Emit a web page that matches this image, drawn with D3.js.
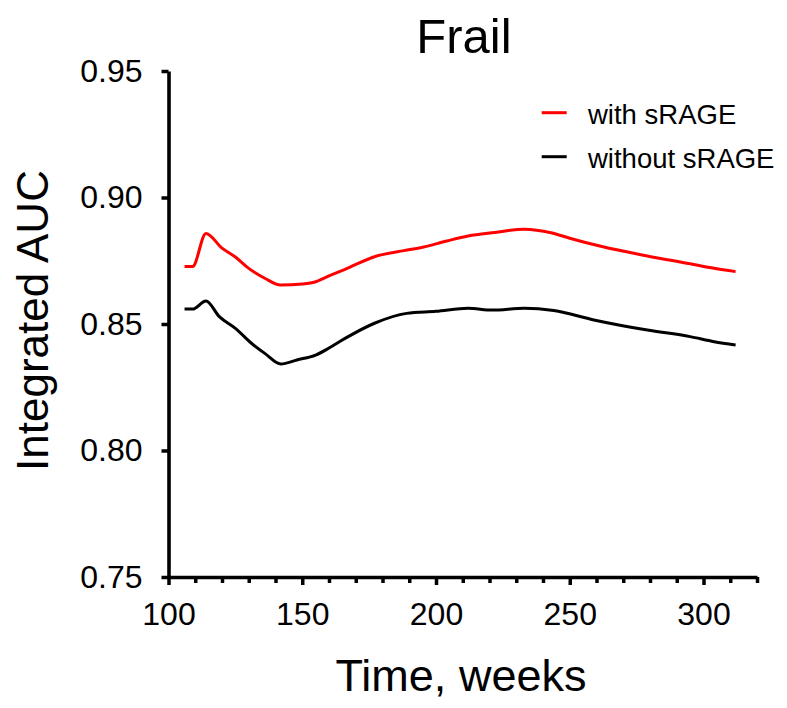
<!DOCTYPE html>
<html><head><meta charset="utf-8">
<script src="https://cdn.jsdelivr.net/npm/d3@7"></script>
<style>body{margin:0;background:#fff}svg{display:block}text{font-family:"Liberation Sans",Arial,sans-serif}</style>
</head><body>
<svg id="c" width="787" height="708"></svg>
<script>
const title = "Frail";
const xLabel = "Time, weeks";
const yLabel = "Integrated AUC";
const seriesNames = ["with sRAGE", "without sRAGE"];
const seriesColors = ["#ff0000", "#000000"];
const xTicks = [100, 150, 200, 250, 300];
const yTicks = [0.75, 0.80, 0.85, 0.90, 0.95];
const yTickLabels = ["0.75", "0.80", "0.85", "0.90", "0.95"];

const weeksWith = [106,109,114,120,125,130,136,142,150,154,160,166,177,188,195,204,212,222,233,243,250,262,279,295,304,312];
const aucWith   = [0.8727,0.8727,0.8858,0.8800,0.8765,0.8720,0.8681,0.8654,0.8658,0.8664,0.8690,0.8716,0.8766,0.8790,0.8803,0.8828,0.8848,0.8862,0.8875,0.8861,0.8839,0.8806,0.8769,0.8738,0.8720,0.8707];
const weeksWithout = [106,109,114,119,125,131,136,142,148,155,160,166,177,189,200,212,221,233,244,259,279,295,304,312];
const aucWithout   = [0.8559,0.8559,0.8591,0.8529,0.8483,0.8424,0.8384,0.8342,0.8358,0.8377,0.8405,0.8443,0.8503,0.8542,0.8550,0.8562,0.8555,0.8562,0.8553,0.8516,0.8476,0.8450,0.8430,0.8417];

const svg = d3.select("#c");
const x = d3.scaleLinear().domain([100, 320]).range([168.5, 757]);
const y = d3.scaleLinear().domain([0.75, 0.95]).range([577, 71]);

// minor x ticks
const minor = d3.range(110, 321, 10).filter(v => v % 50 !== 0);
svg.append("g").attr("transform", "translate(0,577)")
  .call(d3.axisBottom(x).tickValues(minor).tickSize(6).tickSizeOuter(0).tickFormat(""))
  .call(g => g.select(".domain").remove())
  .call(g => g.selectAll("line").attr("stroke-width", 3.5));

const gx = svg.append("g").attr("transform", "translate(0,577)")
  .call(d3.axisBottom(x).tickValues(xTicks).tickSize(8).tickSizeOuter(0).tickPadding(17));
gx.select(".domain").attr("stroke-width", 3.6);
gx.selectAll("line").attr("stroke-width", 3.5);
gx.selectAll("text").attr("font-size", 32).attr("fill", "#000");

const gy = svg.append("g").attr("transform", "translate(168.5,0)")
  .call(d3.axisLeft(y).tickValues(yTicks).tickSize(7).tickSizeOuter(0).tickPadding(19)
    .tickFormat((d, i) => yTickLabels[i]));
gy.select(".domain").attr("stroke-width", 3.6);
gy.selectAll("line").attr("stroke-width", 3.5);
gy.selectAll("text").attr("font-size", 32).attr("fill", "#000");

const line = d3.line().x(d => x(d[0])).y(d => y(d[1])).curve(d3.curveMonotoneX);
const data = [
  d3.zip(weeksWith, aucWith),
  d3.zip(weeksWithout, aucWithout)
];
data.forEach((d, i) => {
  svg.append("path").datum(d).attr("d", line)
    .attr("fill", "none").attr("stroke", seriesColors[i]).attr("stroke-width", 3)
    .attr("stroke-linejoin", "round");
});

// legend
const legY = [112.7, 156.7];
seriesNames.forEach((n, i) => {
  svg.append("line").attr("x1", 541.7).attr("x2", 566.7).attr("y1", legY[i]).attr("y2", legY[i])
    .attr("stroke", seriesColors[i]).attr("stroke-width", 3);
  svg.append("text").attr("x", 588).attr("y", legY[i] + 11.5).attr("font-size", 27.5).text(n);
});

svg.append("text").attr("x", 464).attr("y", 53).attr("text-anchor", "middle").attr("font-size", 49).text(title);
svg.append("text").attr("x", 461).attr("y", 691).attr("text-anchor", "middle").attr("font-size", 45).text(xLabel);
svg.append("text").attr("transform", "translate(48,320.5) rotate(-90)").attr("text-anchor", "middle").attr("font-size", 44).text(yLabel);
</script>
</body></html>
